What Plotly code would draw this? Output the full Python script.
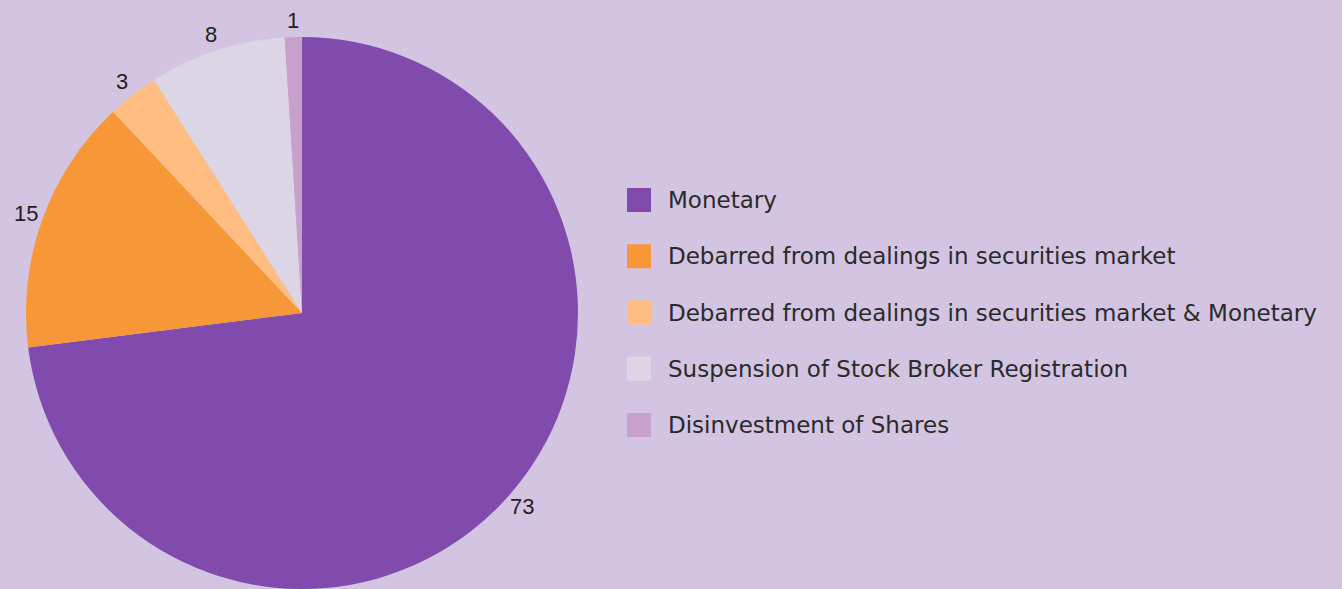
import math
import plotly.graph_objects as go

categories = [
    "Monetary",
    "Debarred from dealings in securities market",
    "Debarred from dealings in securities market & Monetary",
    "Suspension of Stock Broker Registration",
    "Disinvestment of Shares",
]
values = [73, 15, 3, 8, 1]
colors = ["#814BAE", "#F79737", "#FFBD82", "#DCD5E6", "#C7A0CB"]

W, H = 1342, 589
BG = "#D3C5E2"

# pie geometry (pixels)
pie_top = 37
pie_bottom = H
R = (pie_bottom - pie_top) / 2
cx = 302
cy = pie_top + R

fig = go.Figure()
fig.add_trace(go.Pie(
    labels=categories,
    values=values,
    sort=False,
    direction="clockwise",
    rotation=0,
    marker=dict(colors=colors, line=dict(width=0)),
    textinfo="none",
    showlegend=False,
    hoverinfo="label+value",
    domain=dict(x=[(cx - R) / W, (cx + R) / W], y=[0, (H - pie_top) / H]),
))

annotations = []
# value labels at each slice's mid-angle, just outside the pie
total = sum(values)
cum = 0
label_r = R + 17
for v in values:
    mid = (cum + v / 2) / total
    cum += v
    th = mid * 2 * math.pi
    px = cx + label_r * math.sin(th)
    py = cy - label_r * math.cos(th)
    annotations.append(dict(
        xref="paper", yref="paper",
        x=px / W, y=1 - py / H,
        xanchor="center", yanchor="middle",
        text=str(v), showarrow=False,
        font=dict(family="Liberation Sans, Arial", size=22, color="#231F20"),
    ))

# manual legend built from the category list
sq = 24
x0 = 627
tx = 666
y_first = 200
step = 56.25
shapes = []
for i, (lab, col) in enumerate(zip(categories, colors)):
    yc = y_first + i * step
    shapes.append(dict(
        type="rect", xref="paper", yref="paper",
        x0=x0 / W, x1=(x0 + sq) / W,
        y0=1 - (yc + sq / 2) / H, y1=1 - (yc - sq / 2) / H,
        fillcolor=col, line=dict(width=0),
    ))
    annotations.append(dict(
        xref="paper", yref="paper",
        x=tx / W, y=1 - yc / H,
        xanchor="left", yanchor="middle",
        text=lab, showarrow=False,
        font=dict(family="DejaVu Sans", size=23, color="#2A2A2A"),
    ))

fig.update_layout(
    width=W, height=H,
    margin=dict(l=0, r=0, t=0, b=0),
    paper_bgcolor=BG,
    plot_bgcolor=BG,
    shapes=shapes,
    annotations=annotations,
)

fig.write_html(
    "out.html",
    config={"displayModeBar": False},
    post_script="document.body.style.margin='0';document.body.style.overflow='hidden';",
)
